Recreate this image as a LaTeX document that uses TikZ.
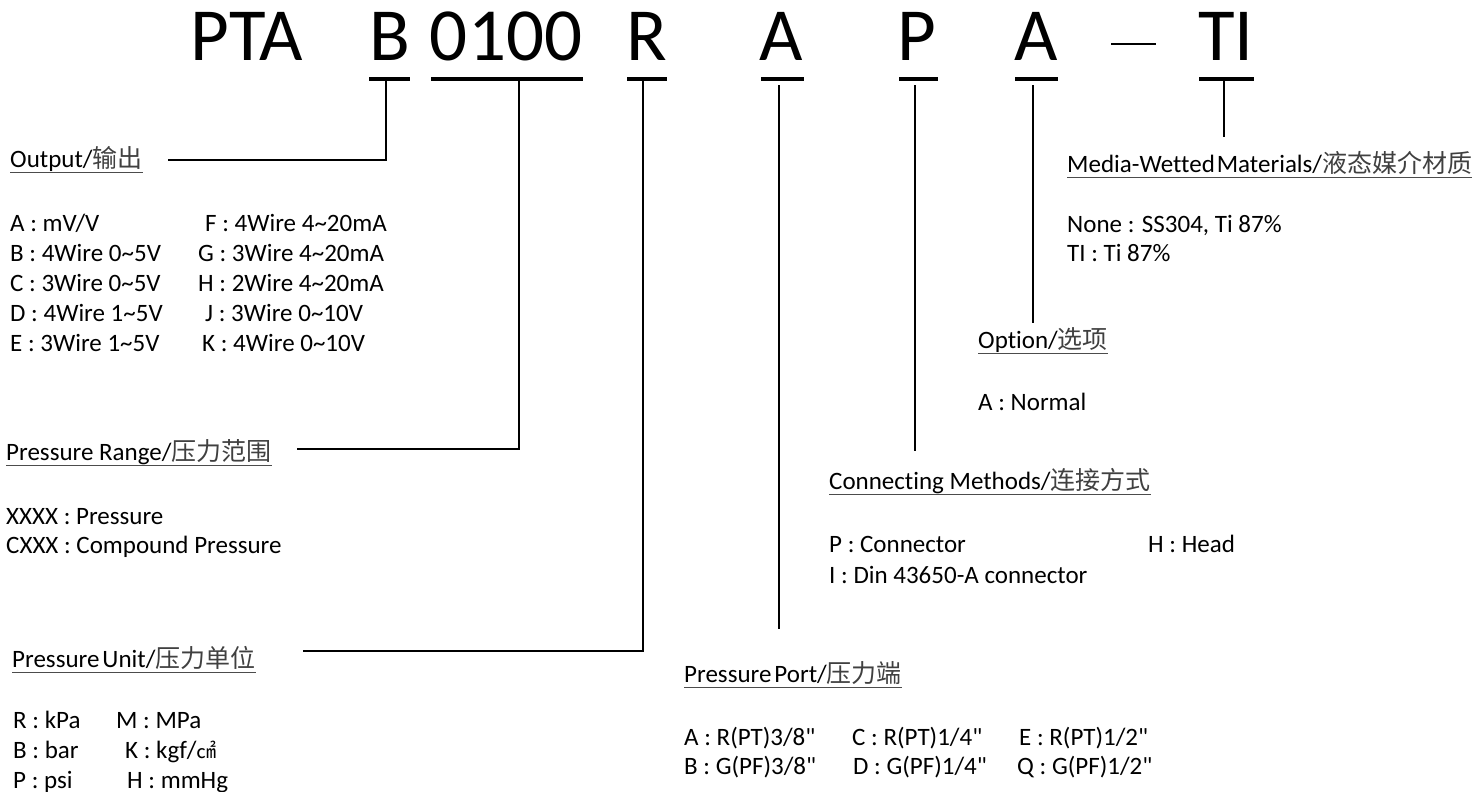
\documentclass[tikz,border=0pt]{standalone}
\usepackage{fontspec}
\setmainfont{Carlito}
\newfontfamily\lat{Carlito}[Ligatures={NoCommon}]
\newfontfamily\cjk{Noto Sans CJK SC}
\newcommand{\zh}[1]{{\cjk\color{black!75}#1}}
\begin{document}
\begin{tikzpicture}[x=1pt,y=-1pt,
  code/.style={font=\lat\fontsize{75}{75}\selectfont, inner sep=0pt, anchor=base},
  head/.style={font=\lat\fontsize{25}{30}\selectfont, inner sep=0pt, anchor=base west},
  txt/.style={font=\lat\fontsize{25}{30}\selectfont, inner sep=0pt, anchor=base west},
  ubar/.style={line width=4pt},
  conn/.style={line width=2.3pt},
  hul/.style={line width=1.6pt, draw=black!70},
  dashline/.style={line width=2pt},
]
\useasboundingbox (0,0) rectangle (1480,792);

% ---- code letters ----
\node[code] (cPTA) at (247,61) {PTA};
\node[code] (cB)   at (390,61) {B};
\node[code] (cRng) at (506,61) {0100};
\node[code] (cR)   at (647,61) {R};
\node[code] (cA)   at (781,61) {A};
\node[code] (cP)   at (917,61) {P};
\node[code] (cO)   at (1036,61) {A};
\node[code] (cTI)  at (1226,61) {TI};
\coordinate (d1) at (1111,44);
\coordinate (d2) at (1156,44);
\draw[dashline] (d1) -- (d2);

% ---- underlines ----
\draw[ubar] (369,79) -- (410,79);
\draw[ubar] (431,79) -- (583,79);
\draw[ubar] (627,79) -- (667,79);
\draw[ubar] (761,79) -- (804,79);
\draw[ubar] (899,79) -- (938,79);
\draw[ubar] (1015,79) -- (1058,79);
\draw[ubar] (1199,79) -- (1254,79);

% ---- headings ----
\node[head] (hOut) at (10,167) {Output/\zh{输出}};
\node[head] (hRng) at (6,460) {Pressure Range/\zh{压力范围}};
\node[head] (hUnit) at (12,667) {Pressure\hspace{3pt}Unit/\zh{压力单位}};
\node[head] (hPort) at (684,682) {Pressure\hspace{3pt}Port/\zh{压力端}};
\node[head] (hConn) at (829,489) {Connecting Methods/\zh{连接方式}};
\node[head] (hOpt) at (978,348) {Option/\zh{选项}};
\node[head] (hMed) at (1067,172) {Media-Wetted\hspace{2pt}Materials/\zh{液态媒介材质}};
\foreach \h in {hOut,hRng,hUnit,hPort,hConn,hOpt,hMed}
  \draw[hul] ([yshift=-5.5pt]\h.base west) -- ([yshift=-5.5pt]\h.base east);

% ---- connectors ----
\coordinate (tB) at (386,81);   \coordinate (kB) at (386,160);  \coordinate (eB) at (168,160);
\coordinate (tRng) at (519,81); \coordinate (kRng) at (519,449); \coordinate (eRng) at (297,449);
\coordinate (tR) at (643,81);   \coordinate (kR) at (643,651);  \coordinate (eR) at (303,651);
\coordinate (tA) at (779,85);   \coordinate (eA) at (779,629);
\coordinate (tP) at (915,85);   \coordinate (eP) at (915,451);
\coordinate (tO) at (1033,85);  \coordinate (eO) at (1033,323);
\coordinate (tTI) at (1224,81); \coordinate (eTI) at (1224,137);
\draw[conn] (tB) -- (kB) -- (eB);
\draw[conn] (tRng) -- (kRng) -- (eRng);
\draw[conn] (tR) -- (kR) -- (eR);
\draw[conn] (tA) -- (eA);
\draw[conn] (tP) -- (eP);
\draw[conn] (tO) -- (eO);
\draw[conn] (tTI) -- (eTI);

% ---- output list ----
\node[txt] (o1) at (10,231) {A : mV/V};
\node[txt] (o2) at (10,261) {B : 4Wire 0\textasciitilde 5V};
\node[txt] (o3) at (10,291) {C : 3Wire 0\textasciitilde 5V};
\node[txt] (o4) at (10,321) {D : 4Wire 1\textasciitilde 5V};
\node[txt] (o5) at (10,351) {E : 3Wire 1\textasciitilde 5V};
\node[txt] (o6) at (205,231) {F : 4Wire 4\textasciitilde 20mA};
\node[txt] (o7) at (198,261) {G : 3Wire 4\textasciitilde 20mA};
\node[txt] (o8) at (198,291) {H : 2Wire 4\textasciitilde 20mA};
\node[txt] (o9) at (205,321) {J : 3Wire 0\textasciitilde 10V};
\node[txt] (o10) at (202,351) {K : 4Wire 0\textasciitilde 10V};

% ---- range list ----
\node[txt] (r1) at (6,524) {XXXX : Pressure};
\node[txt] (r2) at (6,553) {CXXX : Compound Pressure};

% ---- unit list ----
\node[txt] (u1) at (13,728) {R : kPa};
\node[txt] (u2) at (116,728) {M : MPa};
\node[txt] (u3) at (13,758) {B : bar};
\node[txt] (u4) at (125,758) {K : kgf/{\cjk\fontsize{20}{20}\selectfont ㎠}};
\node[txt] (u5) at (13,788) {P : psi};
\node[txt] (u6) at (127,788) {H : mmHg};

% ---- port list ----
\node[txt] (p1) at (684,745) {A : R(PT)3/8"};
\node[txt] (p2) at (684,774) {B : G(PF)3/8"};
\node[txt] (p3) at (852,745) {C : R(PT)1/4"};
\node[txt] (p4) at (853,774) {D : G(PF)1/4"};
\node[txt] (p5) at (1019,745) {E : R(PT)1/2"};
\node[txt] (p6) at (1017,774) {Q : G(PF)1/2"};

% ---- connecting list ----
\node[txt] (m1) at (829,552) {P : Connector};
\node[txt] (m2) at (1148,552) {H : Head};
\node[txt] (m3) at (829,583) {I : Din 43650-A connector};

% ---- option / media ----
\node[txt] (op1) at (978,410) {A : Normal};
\node[txt] (w1) at (1067,232) {None : SS304, Ti 87\%};
\node[txt] (w2) at (1067,261) {TI : Ti 87\%};
\end{tikzpicture}
\end{document}
